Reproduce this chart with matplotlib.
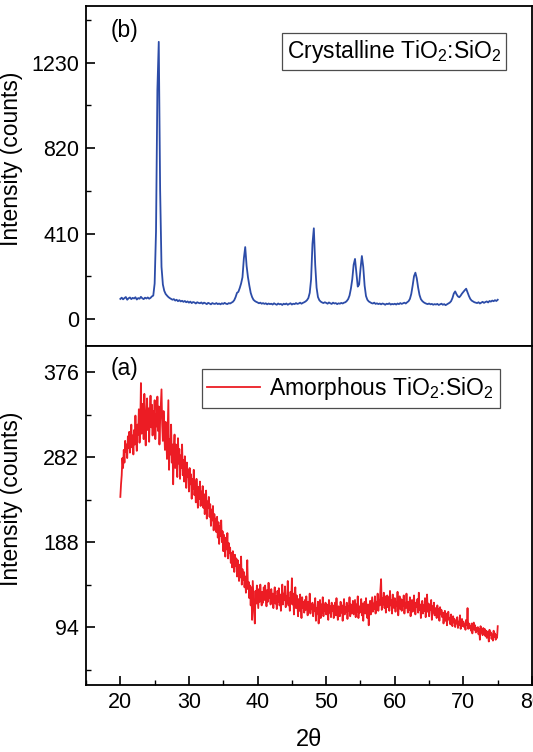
import numpy as np
import matplotlib
matplotlib.use("Agg")
import matplotlib.pyplot as plt
from matplotlib.ticker import MultipleLocator

plt.rcParams['font.family'] = ['Liberation Sans', 'DejaVu Sans']
plt.rcParams['mathtext.fontset'] = 'custom'
plt.rcParams['mathtext.rm'] = 'Liberation Sans'
plt.rcParams['mathtext.default'] = 'regular'

# (b) crystalline pattern, 2theta = 20.0 ... 75.0 step 0.2
cryst_start, cryst_step = 20.0, 0.2
cryst_counts = [
    96, 102, 94, 100, 105, 92, 99, 103, 95, 101,
    98, 104, 93, 100, 97, 106, 99, 95, 102, 98,
    103, 97, 101, 108, 112, 170, 420, 1100, 1330, 620,
    250, 165, 135, 120, 112, 105, 100, 96, 92, 95,
    88, 92, 85, 90, 84, 87, 82, 86, 80, 84,
    78, 83, 76, 81, 79, 74, 80, 77, 75, 79,
    73, 78, 75, 71, 77, 74, 70, 76, 73, 72,
    76, 71, 74, 70, 75, 72, 77, 73, 71, 76,
    74, 78, 82, 90, 105, 125, 130, 148, 170, 200,
    290, 345, 255, 200, 160, 125, 105, 92, 86, 82,
    79, 75, 78, 73, 76, 72, 75, 70, 74, 71,
    73, 69, 75, 71, 68, 74, 70, 72, 67, 73,
    70, 74, 68, 72, 75, 69, 73, 71, 76, 72,
    74, 78, 73, 77, 80, 84, 90, 100, 125, 190,
    360, 435, 260, 150, 105, 90, 83, 79, 76, 80,
    77, 73, 79, 75, 72, 78, 74, 76, 71, 75,
    73, 77, 74, 78, 80, 86, 95, 112, 145, 190,
    260, 288, 220, 155, 165, 240, 302, 250, 160, 110,
    92, 84, 80, 76, 74, 78, 72, 75, 71, 74,
    70, 74, 72, 68, 73, 71, 75, 69, 72, 70,
    73, 69, 74, 71, 76, 72, 75, 78, 74, 80,
    85, 96, 120, 160, 205, 222, 195, 150, 115, 95,
    86, 80, 76, 73, 71, 74, 70, 72, 68, 71,
    69, 72, 67, 70, 73, 68, 71, 66, 70, 74,
    78, 85, 100, 122, 132, 118, 108, 104, 112, 122,
    130, 138, 145, 128, 110, 96, 88, 84, 80, 78,
    76, 80, 74, 78, 82, 77, 81, 84, 79, 86,
    83, 88, 85, 90, 86,
    92,
]

# (a) amorphous pattern, 2theta = 20.0 ... 75.0 step 0.1
amor_start, amor_step = 20.0, 0.1
amor_counts = [
    238, 252, 262, 281, 270, 290, 276, 300, 288, 296,
    281, 305, 292, 310, 287, 299, 318, 293, 306, 285,
    312, 296, 328, 301, 289, 318, 307, 335, 298, 316,
    364, 308, 326, 341, 302, 352, 318, 295, 331, 347,
    312, 336, 299, 328, 350, 315, 340, 306, 333, 321,
    345, 302, 330, 316, 349, 311, 338, 296, 322, 341,
    357, 318, 300, 333, 312, 290, 321, 303, 280, 312,
    345, 268, 302, 285, 318, 276, 296, 252, 290, 307,
    270, 296, 282, 260, 303, 275, 291, 258, 284, 270,
    296, 262, 279, 255, 283, 270, 248, 276, 260, 268,
    244, 270, 252, 263, 236, 258, 247, 268, 240, 255,
    232, 258, 241, 226, 249, 236, 255, 228, 244, 232,
    250, 226, 241, 219, 236, 245, 214, 233, 226, 238,
    216, 230, 206, 224, 212, 228, 201, 219, 208, 214,
    199, 216, 193, 210, 186, 206, 195, 212, 188, 200,
    178, 196, 185, 172, 193, 180, 198, 170, 187, 176,
    182, 165, 176, 160, 178, 168, 155, 174, 162, 170,
    150, 168, 156, 145, 163, 149, 172, 141, 158, 146,
    155, 138, 150, 132, 147, 168, 136, 144, 126, 140,
    118, 138, 102, 145, 128, 110, 98, 134, 120, 140,
    128, 115, 136, 122, 141, 126, 118, 133, 121, 138,
    124, 140, 129, 117, 135, 122, 143, 126, 132, 119,
    136, 121, 131, 115, 129, 138, 120, 128, 114, 134,
    122, 137, 118, 130, 112, 127, 141, 119, 131, 124,
    139, 116, 128, 121, 145, 118, 126, 112, 133, 120,
    148, 119, 131, 108, 127, 138, 115, 129, 121, 106,
    125, 112, 130, 118, 104, 127, 115, 122, 110, 124,
    113, 128, 116, 107, 122, 112, 131, 109, 119, 114,
    121, 106, 118, 112, 126, 101, 115, 109, 122, 98,
    116, 124, 104, 119, 110, 127, 106, 118, 112, 121,
    108, 119, 113, 102, 124, 110, 117, 105, 121, 112,
    118, 104, 115, 121, 107, 126, 111, 102, 117, 113,
    106, 122, 110, 118, 101, 114, 125, 108, 116, 111,
    121, 103, 117, 112, 127, 106, 119, 109, 114, 123,
    108, 116, 124, 105, 119, 111, 128, 104, 117, 110,
    115, 125, 107, 120, 101, 116, 122, 109, 126, 112,
    104, 119, 96, 115, 123, 108, 117, 127, 111, 120,
    114, 128, 109, 122, 117, 131, 112, 124, 118, 135,
    147, 113, 126, 119, 132, 115, 128, 110, 123, 129,
    116, 127, 112, 134, 118, 124, 109, 130, 121, 115,
    126, 111, 122, 118, 133, 107, 120, 128, 114, 125,
    112, 124, 117, 129, 109, 121, 115, 131, 118, 110,
    122, 113, 127, 106, 119, 124, 111, 118, 129, 114,
    108, 121, 116, 125, 110, 132, 113, 119, 104, 117,
    123, 109, 118, 112, 126, 105, 116, 130, 111, 120,
    106, 119, 113, 124, 102, 117, 110, 121, 107, 115,
    112, 104, 118, 109, 114, 101, 116, 108, 113, 105,
    110, 98, 107, 112, 101, 109, 96, 105, 111, 102,
    104, 97, 108, 100, 95, 106, 99, 103, 94, 101,
    98, 105, 93, 100, 96, 107, 92, 99, 103, 95,
    100, 94, 97, 91, 102, 96, 115, 92, 98, 93,
    95, 90, 98, 87, 94, 99, 91, 96, 88, 93,
    90, 94, 86, 92, 80, 95, 88, 91, 85, 93,
    87, 92, 84, 90, 82, 89, 86, 78, 91, 85,
    88, 81, 86, 79, 90, 83, 87, 80, 85, 82,
    95,
]

top_ticks = [0, 410, 820, 1230]
bot_ticks = [94, 188, 282, 376]
x_ticks = [20, 30, 40, 50, 60, 70, 80]

cryst_x = cryst_start + cryst_step * np.arange(len(cryst_counts))
amor_x = amor_start + amor_step * np.arange(len(amor_counts))

fig = plt.figure(figsize=(5.33, 7.52), dpi=100)
ax_b = fig.add_axes([0.1614, 0.5399, 0.8368, 0.4521])
ax_a = fig.add_axes([0.1614, 0.0892, 0.8368, 0.4507], sharex=ax_b)

ax_b.plot(cryst_x, cryst_counts, color='#2c4ca8', lw=1.3)
ax_a.plot(amor_x, amor_counts, color='#ec1c24', lw=1.3,
          label='Amorphous TiO$_2$:SiO$_2$')

ax_b.set_ylim(-130, 1502)
ax_a.set_ylim(30, 405)
ax_a.set_xlim(15, 80)

ax_b.set_yticks(top_ticks)
ax_b.yaxis.set_minor_locator(MultipleLocator(205))
ax_a.set_yticks(bot_ticks)
ax_a.yaxis.set_minor_locator(MultipleLocator(47))
ax_a.set_xticks(x_ticks)
ax_a.xaxis.set_minor_locator(MultipleLocator(5))

for ax in (ax_a, ax_b):
    for s in ax.spines.values():
        s.set_linewidth(1.3)
    ax.tick_params(which='major', direction='in', length=6.5, width=1.2,
                   labelsize=15.5, pad=5, right=False, top=False)
    ax.tick_params(which='minor', direction='in', length=3.3, width=1.0,
                   right=False, top=False)
    ax.set_ylabel('Intensity (counts)', fontsize=16.5)
    ax.yaxis.set_label_coords(-0.141, 0.55)

ax_b.tick_params(axis='x', which='both', bottom=False, labelbottom=False)

ax_a.set_xlabel('2θ', fontsize=17)
ax_a.xaxis.set_label_coords(0.5, -0.13)

ax_b.text(0.087, 0.929, '(b)', transform=ax_b.transAxes, fontsize=16.5,
          ha='center', va='center')
ax_a.text(0.087, 0.934, '(a)', transform=ax_a.transAxes, fontsize=16.5,
          ha='center', va='center')

ax_b.text(0.69, 0.866, 'Crystalline TiO$_2$:SiO$_2$', transform=ax_b.transAxes,
          fontsize=16.5, ha='center', va='center',
          bbox=dict(boxstyle='square,pad=0.2', fc='white', ec='0.3', lw=0.9))

leg = ax_a.legend(loc='center', bbox_to_anchor=(0.593, 0.874), fontsize=16.5,
                  fancybox=False, framealpha=1, edgecolor='0.3',
                  handlelength=2.3, handletextpad=0.4, borderpad=0.25,
                  borderaxespad=0)
leg.get_frame().set_linewidth(0.9)

fig.savefig('out.png', dpi=100)
